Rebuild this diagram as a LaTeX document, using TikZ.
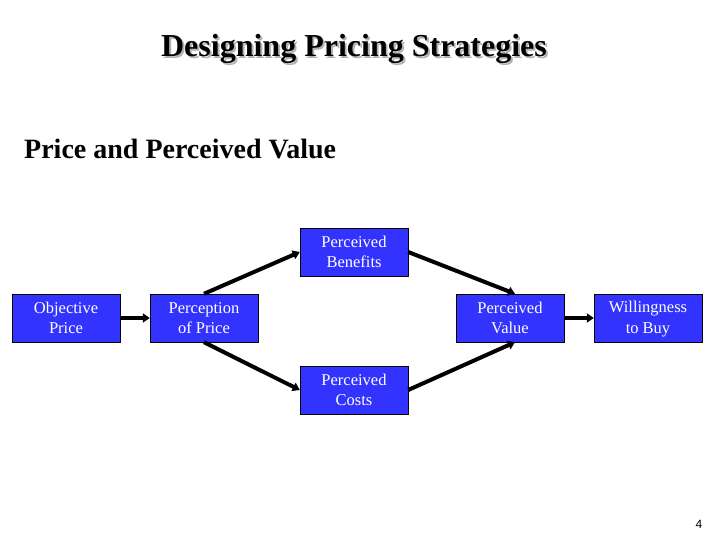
\documentclass[tikz,border=0pt]{standalone}
\usepackage{fontspec}
\setmainfont{Liberation Serif}
\newfontfamily\pagefont{Liberation Sans}
\usetikzlibrary{arrows.meta}
\definecolor{boxblue}{RGB}{51,51,255}
\newcommand{\shadowtext}[1]{\makebox[0pt][l]{\raisebox{-2pt}{\hspace{2pt}\textcolor{gray!60}{#1}}}#1}
\newcommand{\bs}{\rule[-3pt]{0pt}{17pt}}
\tikzset{
	box/.style={draw=black, fill=boxblue, text=white, minimum width=108pt, minimum height=48pt, align=center, inner sep=0pt, font=\fontsize{16.5}{20.5}\selectfont},
	flow/.style={line width=4pt, -{Triangle[length=7pt,width=9pt]}}
}
\begin{document}
\begin{tikzpicture}[x=1pt,y=-1pt]
			\useasboundingbox[fill=white] (0,0) rectangle (720,540);

			% headings
			\node (title) at (354,50) {\fontsize{32}{36}\selectfont\bfseries\shadowtext{Designing Pricing Strategies}};
			\node[anchor=west, inner sep=0pt] (subtitle) at (24,149) {\fontsize{28}{32}\selectfont\bfseries Price and Perceived Value};

			% boxes
			\node[box] (objective) at (66,318) {\bs Objective\\\bs Price};
			\node[box] (perception) at (204,318) {\bs Perception\\\bs of Price};
			\node[box] (benefits) at (354,252) {\bs Perceived\\\bs Benefits};
			\node[box] (costs) at (354,390) {\bs Perceived\\\bs Costs};
			\node[box] (value) at (510,318) {\bs Perceived\\\bs Value};
			\node[box] (buy) at (648,318) {\bs Willingness\\\bs to Buy};

			% arrows
			\draw[flow] (objective) -- (perception);
			\draw[flow] (perception.north) -- (benefits.west);
			\draw[flow] (perception.south) -- (costs.west);
			\draw[flow] (benefits.east) -- ([xshift=5pt]value.north);
			\draw[flow] (costs.east) -- ([xshift=5pt]value.south);
			\draw[flow] (value) -- (buy);

			\node (pagenum) at (699,524) {\pagefont\fontsize{12}{14}\selectfont 4};
		\end{tikzpicture}
\end{document}
